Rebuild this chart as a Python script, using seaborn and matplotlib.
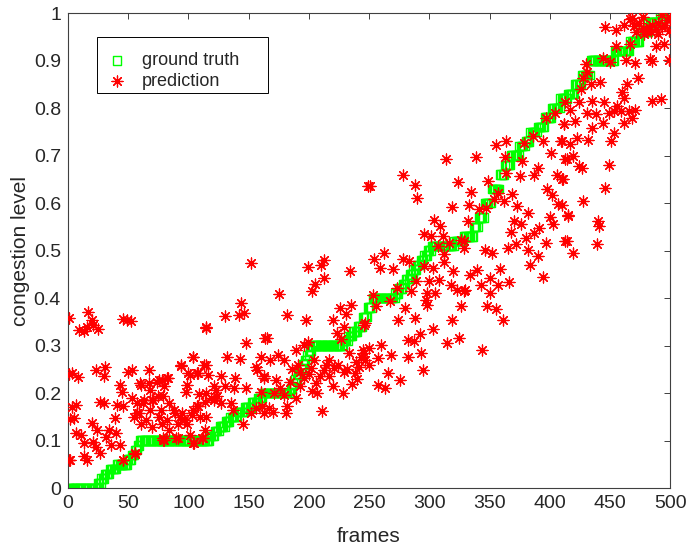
import numpy as np
import matplotlib
matplotlib.use("Agg")
import matplotlib.pyplot as plt
from matplotlib.patches import Rectangle
import seaborn as sns

# ground truth: step levels, each held from its start frame to the next one
gt_starts = [1, 25, 28, 31, 35, 41, 50, 53, 56, 58,
             60, 118, 122, 126, 131, 135, 141, 147, 153, 158,
             162, 185, 187, 189, 191, 193, 195, 197, 199, 201,
             203, 229, 233, 237, 241, 245, 249, 253, 272, 275,
             278, 281, 284, 287, 290, 293, 296, 299, 302, 321,
             329, 337, 341, 346, 352, 359, 363, 368, 375, 380,
             384, 390, 396, 402, 409, 415, 421, 427, 434, 454,
             467, 475, 482, 492]
gt_levels = [0, 0.01, 0.02, 0.03, 0.04, 0.05, 0.06, 0.07, 0.08, 0.09,
             0.10, 0.11, 0.12, 0.13, 0.14, 0.15, 0.16, 0.17, 0.18, 0.19,
             0.20, 0.21, 0.22, 0.23, 0.24, 0.25, 0.26, 0.27, 0.28, 0.29,
             0.30, 0.31, 0.32, 0.33, 0.34, 0.36, 0.38, 0.40, 0.41, 0.42,
             0.43, 0.44, 0.45, 0.46, 0.47, 0.48, 0.49, 0.50, 0.51, 0.52,
             0.53, 0.55, 0.57, 0.60, 0.63, 0.66, 0.68, 0.70, 0.72, 0.73,
             0.75, 0.76, 0.78, 0.80, 0.82, 0.83, 0.85, 0.87, 0.90, 0.92,
             0.94, 0.96, 0.98, 1.0]
n_frames = 500

# predictions (frame, value)
pred_frames = [
    1, 17, 9, 13, 16, 20, 25, 21, 46, 52, 49,
    3, 8, 23, 31, 30, 50, 53, 67, 43, 45,
    7, 27, 30, 41, 46, 53, 61, 67, 74, 78,
    57, 63, 70, 75, 59, 68, 77, 5, 20, 39,
    55, 61, 70, 78, 7, 11, 24, 34, 40, 32,
    36, 43, 13, 21, 23, 27, 13, 16, 2, 46, 56, 79,
    1, 2, 3, 1,
    60, 68, 76, 82, 62, 71, 79, 57, 65, 76, 82, 89, 93, 99, 104, 108, 115,
    121, 115, 123, 104, 94, 100, 108, 115, 115, 79, 90, 104, 111, 46, 56,
    152, 144, 130, 142, 146, 115, 148, 164, 160, 156, 157, 163, 104, 94,
    132, 143, 113, 101, 107, 116, 83, 80, 99, 98, 109, 127, 121, 124, 130,
    139, 138, 148, 119, 114, 127, 135, 137, 145, 84, 88, 95, 103, 107, 110,
    91, 96, 84, 80, 91, 101, 105, 112, 114, 152, 156, 161, 163, 160,
    249, 199, 210, 213, 234, 213, 205, 203, 175, 182, 198, 165, 220, 226,
    235, 231, 229, 223, 227, 246, 189, 196, 199, 174, 168, 179, 191, 204,
    202, 217, 233, 239, 243, 247, 213, 221, 229, 238, 163, 173, 184, 196,
    206, 217, 220, 207, 228, 179, 189, 167, 182, 181, 211, 170,
    186, 193, 200, 209, 214, 224, 232, 242, 171, 176, 193, 203, 236, 240, 245, 250,
    314, 251, 278, 288, 290, 324, 319, 304, 309, 296, 301, 311, 316, 326,
    329, 307, 312, 312, 296, 303, 320, 262, 254, 259, 270, 278, 283, 289,
    300, 308, 318, 323, 329, 253, 273, 285, 298, 305, 297, 298, 326, 256,
    267, 280, 274, 288, 319, 247, 303, 282, 292, 287, 315, 325, 260, 250,
    268, 282, 293, 257, 246, 295, 266, 276, 257, 263,
    339, 355, 364, 363, 377, 379, 386, 397, 404, 412, 394, 401, 409, 413,
    364, 375, 387, 390, 398, 402, 406, 411, 407, 349, 335, 333, 357, 362,
    369, 373, 382, 341, 347, 354, 332, 370, 400, 403, 415, 368, 376, 380,
    387, 391, 372, 397, 413, 365, 382, 390, 384, 346, 352, 329, 394, 340,
    359, 334, 350, 357, 366, 343, 350, 330, 348, 355, 361, 344,
    446, 455, 467, 477, 493, 500, 470, 477, 482, 488, 493, 499, 480, 474,
    467, 455, 488, 495, 444, 450, 463, 471, 483, 485, 499, 430, 431, 428,
    426, 434, 442, 473, 464, 460, 462, 485, 492, 413, 424, 435, 445, 456,
    471, 417, 431, 438, 453, 459, 466, 449, 421, 412, 435, 444, 462, 468,
    453, 423, 432, 451, 410, 417, 414, 419, 424, 427, 449, 410, 446, 428,
    415, 410, 440, 441, 414, 419, 439,
    485, 490, 496, 472, 478, 484, 490, 497, 462, 468,
]
pred_values = [
    .358, .37, .333, .33, .34, .354, .335, .344, .356, .351, .354,
    .243, .234, .249, .256, .235, .245, .249, .249, .217, .203,
    .175, .182, .179, .175, .172, .189, .217, .221, .224, .228,
    .179, .186, .186, .193, .158, .165, .165, .147, .138, .147,
    .15, .136, .129, .136, .115, .112, .122, .122, .115, .108,
    .091, .091, .094, .098, .087, .073, .067, .059, .059, .06, .072, .101,
    .24, .145, .17, .06,
    .221, .207, .228, .232, .179, .186, .193, .158, .143, .15, .143, .158, .15, .136, .165, .172, .15,
    .186, .2, .207, .277, .26, .242, .242, .26, .34, .105, .105, .094, .105, .059, .073,
    .473, .39, .363, .365, .369, .338, .305, .316, .277, .256, .249, .235, .276, .257,
    .276, .272, .26, .238, .242, .238, .231, .214, .217, .203, .198, .235, .214, .193, .214,
    .231, .21, .21, .189, .182, .179, .179, .165, .136, .179, .165, .158, .154, .172, .15,
    .136, .143, .122, .101, .105, .112, .094, .105, .122, .158, .168, .172, .158, .203,
    .637, .465, .47, .48, .458, .442, .43, .414, .409, .365, .353, .316, .353, .379,
    .386, .367, .34, .326, .314, .344, .291, .302, .307, .281, .27, .27, .26, .27,
    .253, .27, .284, .266, .277, .27, .249, .253, .245, .242, .231, .228, .224, .231,
    .221, .235, .214, .2, .2, .196, .189, .168, .172, .158, .163, .161,
    .25, .245, .24, .235, .26, .26, .25, .255, .2, .21, .215, .205, .22, .23, .29, .26,
    .692, .637, .66, .639, .611, .644, .591, .565, .551, .534, .53, .53, .516, .523,
    .506, .509, .492, .477, .468, .463, .458, .496, .482, .463, .461, .482, .479, .435,
    .435, .439, .428, .418, .414, .407, .421, .414, .411, .411, .397, .386, .383, .383,
    .393, .379, .354, .358, .354, .347, .335, .312, .325, .309, .305, .316, .302, .295,
    .281, .276, .284, .274, .284, .249, .242, .228, .217, .21,
    .698, .722, .731, .698, .689, .727, .741, .78, .789, .766, .731, .706, .731, .692,
    .664, .658, .66, .674, .629, .618, .66, .65, .599, .646, .623, .597, .622, .604,
    .62, .593, .58, .588, .59, .608, .562, .562, .571, .555, .572, .539, .555, .527,
    .537, .548, .513, .515, .52, .506, .501, .488, .47, .501, .495, .52, .445, .46,
    .461, .449, .442, .428, .433, .428, .411, .418, .384, .377, .353, .29,
    .97, .964, .987, .991, .997, .991, .973, .968, .97, .966, .97, .963, .963, .98,
    .935, .931, .931, .936, .906, .898, .901, .896, .903, .899, .901, .892, .875, .864,
    .84, .85, .854, .864, .85, .833, .822, .815, .819, .812, .812, .815, .812, .804,
    .797, .795, .79, .787, .794, .794, .794, .79, .773, .766, .759, .769, .769, .78,
    .748, .738, .732, .731, .731, .724, .692, .699, .678, .674, .681, .65, .632, .604,
    .574, .597, .562, .551, .52, .495, .513,
    .975, .98, .975, .96, .955, .96, .955, .985, .975, .99,
]

gt_frames = np.arange(1, n_frames + 1)
gt_values = np.repeat(gt_levels, np.diff(gt_starts + [n_frames + 1]))

sns.set_style("white")
plt.rcParams["font.family"] = ["Liberation Sans", "DejaVu Sans"]

fig = plt.figure(figsize=(6.86, 5.46), dpi=100)
ax = fig.add_axes([0.099, 0.106, 0.878, 0.870])

sns.scatterplot(x=gt_frames, y=gt_values, marker="s", s=36, color="#00ff00",
                facecolors="none", edgecolors="#00ff00", linewidth=1.0,
                ax=ax, label="ground truth", zorder=2)
sns.scatterplot(x=pred_frames, y=pred_values, marker=(8, 2, 0), s=62,
                color="#ff0000", linewidth=0.9, ax=ax, label="prediction", zorder=3)

ax.set_xlim(0, 500)
ax.set_ylim(0, 1)
ax.set_xticks(np.arange(0, 501, 50))
yt = np.round(np.arange(0, 1.01, 0.1), 1)
ax.set_yticks(yt)
ax.set_yticklabels([f"{v:g}" for v in yt])
ax.tick_params(direction="in", length=4, width=0.7, color="#404040",
               top=True, right=True, labelsize=14, pad=5, labelcolor="#262626")
for sp in ax.spines.values():
    sp.set_color("#404040")
    sp.set_linewidth(0.8)
ax.set_xlabel("frames", fontsize=15, color="#262626", labelpad=11)
ax.set_ylabel("congestion level", fontsize=15, color="#262626", labelpad=3)

# legend box drawn separately so it can be wider than the text, MATLAB-style
ax.add_patch(Rectangle((0.048, 0.832), 0.284, 0.117, transform=ax.transAxes,
                       facecolor="white", edgecolor="black", linewidth=0.7, zorder=4))
leg = ax.legend(loc="upper left", bbox_to_anchor=(0.037, 0.949), borderaxespad=0,
                fontsize=13, frameon=False, handletextpad=0.75, borderpad=0.83,
                labelspacing=0.2, handlelength=1.3)
leg.set_zorder(5)

fig.savefig("out.png", dpi=100)
